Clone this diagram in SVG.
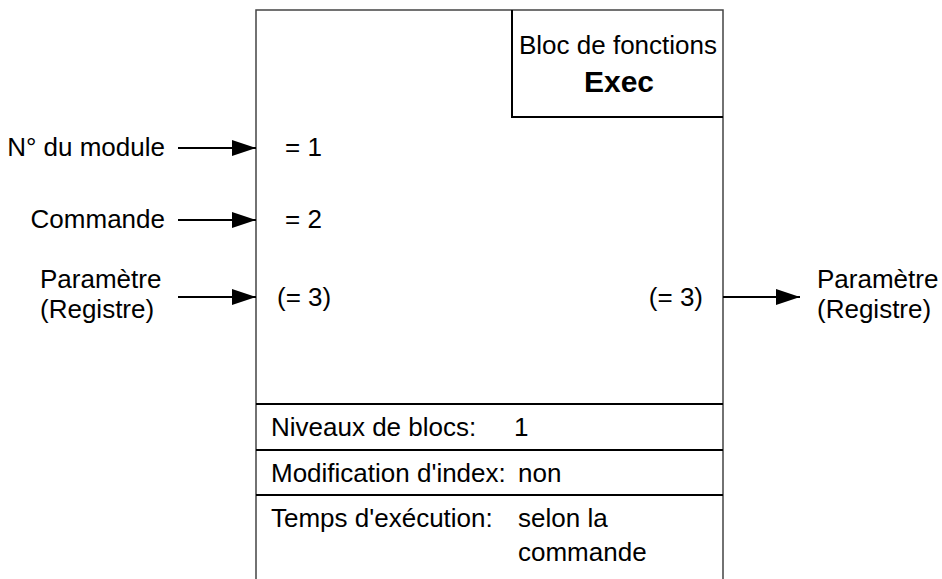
<svg xmlns="http://www.w3.org/2000/svg" width="942" height="579" viewBox="0 0 942 579">
  <style>
    text { font-family: "Liberation Sans", Arial, sans-serif; font-size: 26px; fill: #000; }
    .bold { font-weight: bold; font-size: 30px; }
    .frame { fill: none; stroke: #444; stroke-width: 1.5; }
    .sep { fill: none; stroke: #000; stroke-width: 2; }
    .wire { fill: none; stroke: #000; stroke-width: 2; }
  </style>
  <defs>
    <marker id="arrow" viewBox="0 0 24 16" refX="24" refY="8" markerWidth="24" markerHeight="16" markerUnits="userSpaceOnUse" orient="auto">
      <path d="M0,0 L24,8 L0,16 Z" fill="#000"/>
    </marker>
  </defs>

  <!-- function block body -->
  <g id="block">
    <path class="frame" d="M256,579 V10 H723 V579"/>
    <path class="sep" d="M512,10 V117 H723"/>
    <path class="sep" d="M256,404 H723 M256,450 H723 M256,495 H723"/>
    <text x="618" y="54" text-anchor="middle">Bloc de fonctions</text>
    <text class="bold" x="619" y="92" text-anchor="middle">Exec</text>
    <text x="285" y="156">= 1</text>
    <text x="285" y="228">= 2</text>
    <text x="277" y="306">(= 3)</text>
    <text x="703" y="306" text-anchor="end">(= 3)</text>
  </g>

  <!-- block properties -->
  <g id="props">
    <text x="271" y="436">Niveaux de blocs:</text>
    <text x="514" y="436">1</text>
    <text x="271" y="482">Modification d'index:</text>
    <text x="518" y="482">non</text>
    <text x="271" y="527">Temps d'exécution:</text>
    <text x="518" y="527">selon la</text>
    <text x="518" y="561">commande</text>
  </g>

  <!-- input and output labels -->
  <g id="in-module">
    <text x="165" y="156" text-anchor="end">N° du module</text>
  </g>
  <g id="in-command">
    <text x="165" y="228" text-anchor="end">Commande</text>
  </g>
  <g id="in-param">
    <text x="40" y="288">Paramètre</text>
    <text x="40" y="318">(Registre)</text>
  </g>
  <g id="out-param">
    <text x="817" y="288">Paramètre</text>
    <text x="817" y="318">(Registre)</text>
  </g>

  <!-- connectors -->
  <g id="connectors">
    <line class="wire" x1="178" y1="148" x2="256" y2="148" marker-end="url(#arrow)"/>
    <line class="wire" x1="178" y1="220" x2="256" y2="220" marker-end="url(#arrow)"/>
    <line class="wire" x1="178" y1="297" x2="256" y2="297" marker-end="url(#arrow)"/>
    <line class="wire" x1="723" y1="297" x2="800" y2="297" marker-end="url(#arrow)"/>
  </g>
</svg>
